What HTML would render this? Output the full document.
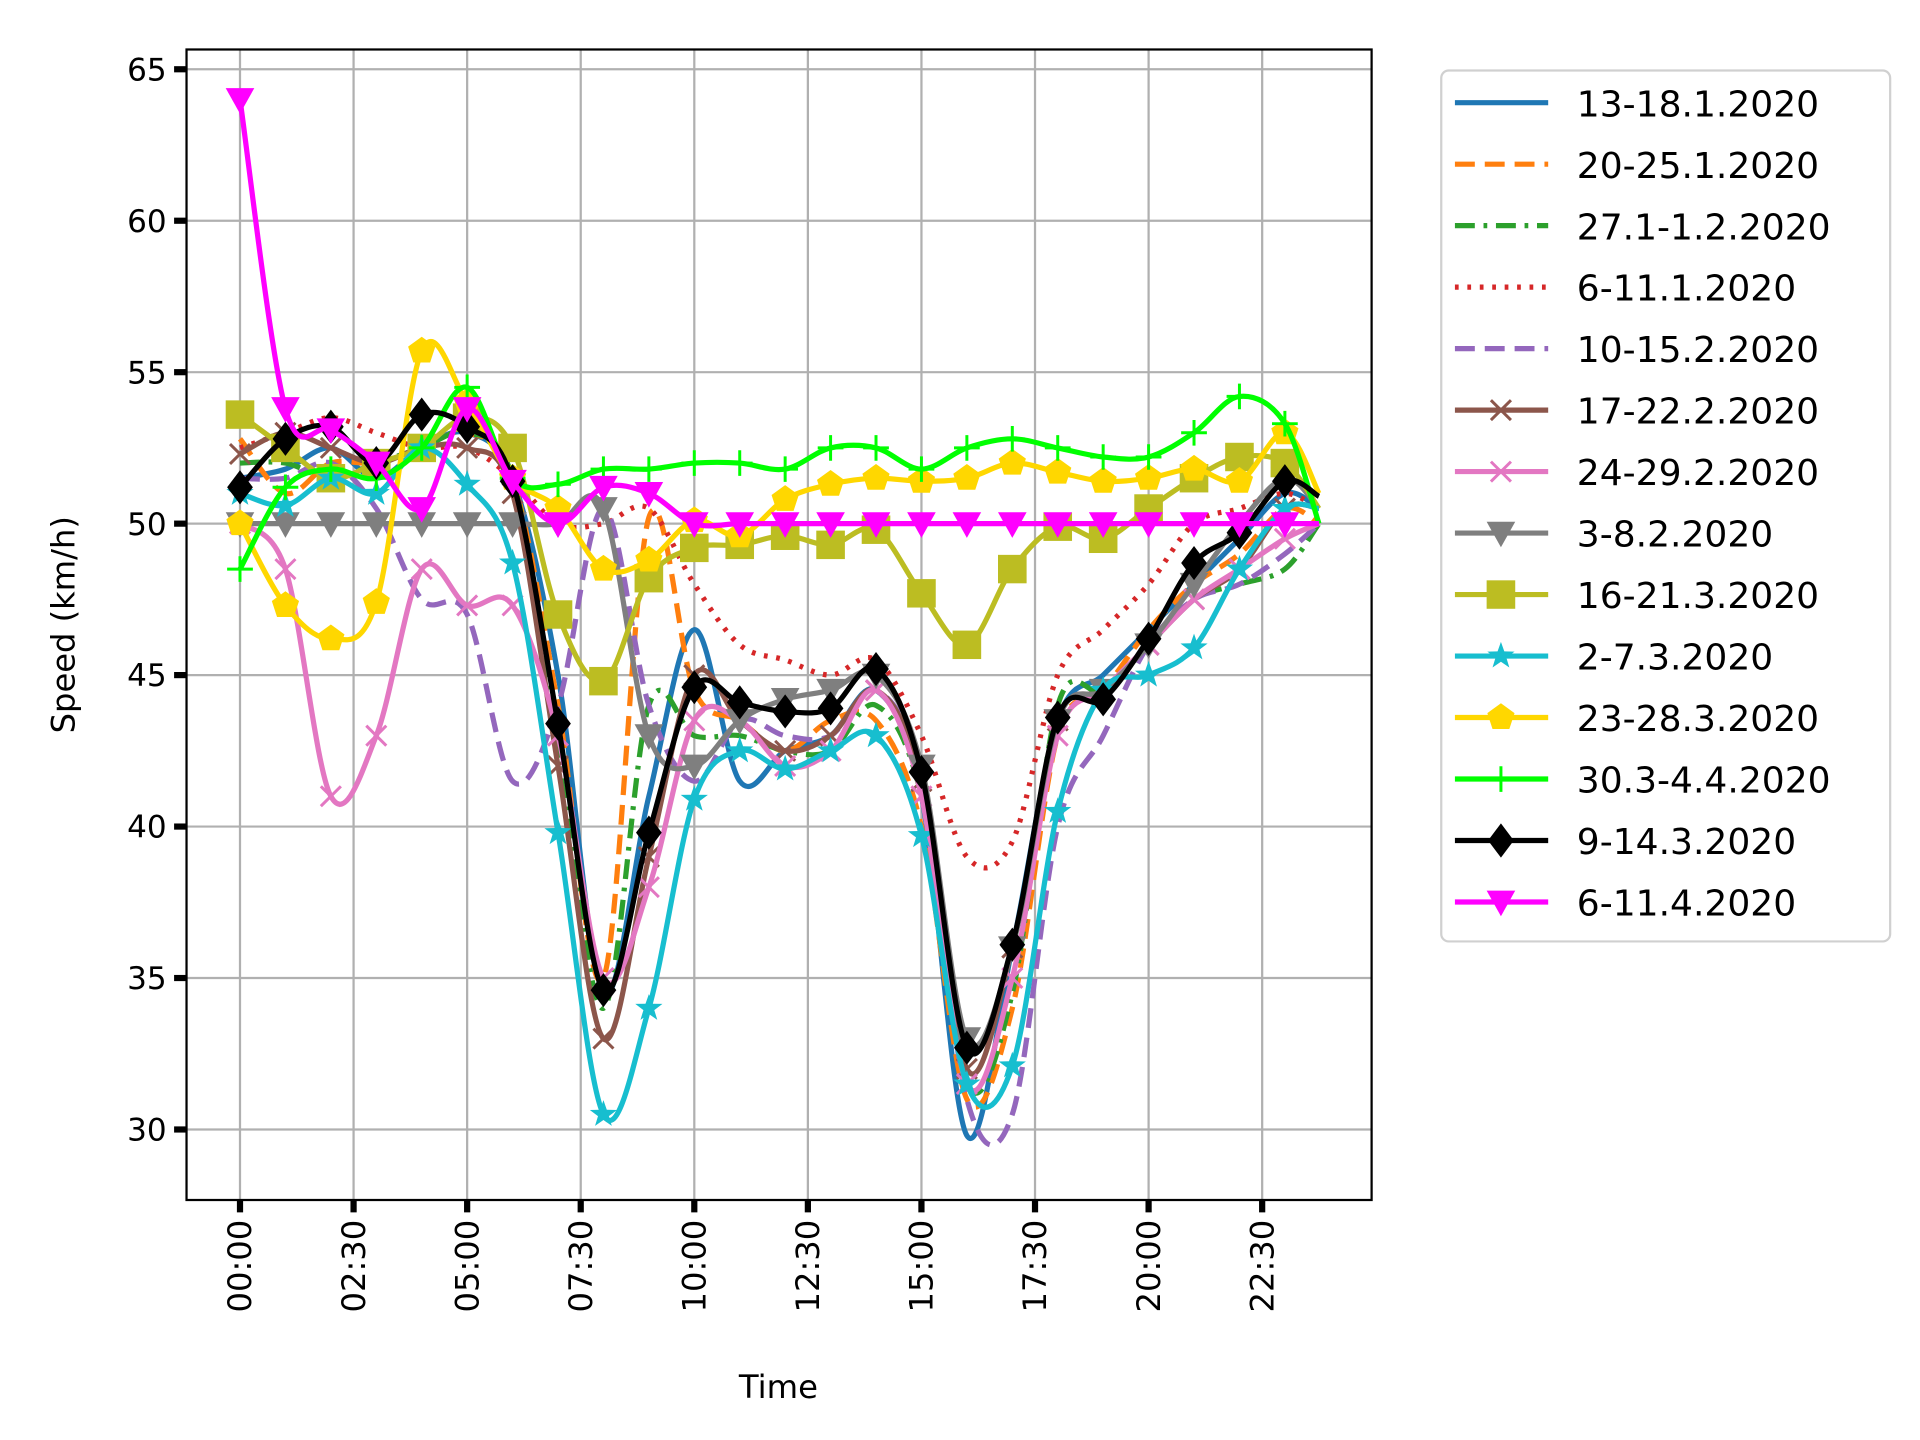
<!DOCTYPE html>
<html><head><meta charset="utf-8"><style>html,body{margin:0;padding:0;background:#fff}svg{display:block}</style></head>
<body>
<svg id="chart" width="1920" height="1440" viewBox="0 0 1544 1164" preserveAspectRatio="none" xmlns="http://www.w3.org/2000/svg" font-family="'DejaVu Sans','Liberation Sans',sans-serif"></svg>
<script>
const hours = [0,1,2,3,4,5,6,7,8,9,10,11,12,13,14,15,16,17,18,19,20,21,22,23,23.75];
const xTickLabels = ["00:00","02:30","05:00","07:30","10:00","12:30","15:00","17:30","20:00","22:30"];
const xTickHours = [0,2.5,5,7.5,10,12.5,15,17.5,20,22.5];
const yTicks = [30,35,40,45,50,55,60,65];
const seriesNames = ["13-18.1.2020","20-25.1.2020","27.1-1.2.2020","6-11.1.2020","10-15.2.2020","17-22.2.2020","24-29.2.2020","3-8.2.2020","16-21.3.2020","2-7.3.2020","23-28.3.2020","30.3-4.4.2020","9-14.3.2020","6-11.4.2020"];
const s1 = [51.5,51.8,52.5,51.5,52.5,53,51.5,45,34.5,41,46.5,41.5,42.5,43,44.5,41,29.8,36,43.5,45,46.5,48,49.5,51,50.5];
const s2 = [52.8,51,52,52,52.5,53,51.5,44,35,50.2,44.5,43.5,42.5,43.5,43.5,40,31,34,43,44.5,46.5,48,49,50.5,50];
const s3 = [52,52,51.5,52,52.5,53,51.5,43,34,44,43,43,42.5,42.5,44,41,31.5,34.5,44,44.5,46,47.5,48,48.5,50];
const s4 = [52.5,53,53.5,53,52.5,52.5,51.5,50,50,50.5,48,46,45.5,45,45.5,43,39,39.5,45,46.5,48,50,50.5,51,50.5];
const s5 = [51.5,51.5,52,50.5,47.5,47,41.5,44,50.5,44,41.5,43.5,43,43,44.5,41.5,31,30.5,40,43,46,47.5,48,49,50];
const s6 = [52.3,53,52.5,52,52.5,52.5,51,42,33,39,45,43.5,42.5,43,44.5,41.5,32,36,43.5,44.5,46,47.5,48.5,50.5,50.5];
const s7 = [50,48.5,41,43,48.5,47.3,47.3,43,35,38,43.5,43.5,42,42.5,44.5,41,31.5,35,43,44.5,46,47.5,48.5,49.5,50];
const s8 = [50,50,50,50,50,50,50,50,50.5,43,42,43.5,44.2,44.5,45,42,33,36,43.5,44.5,46,48,50,51.5,50.5];
const s9 = [53.6,52.5,51.5,52,52.5,53.5,52.5,47,44.8,48.2,49.2,49.3,49.6,49.3,49.8,47.7,46,48.5,49.9,49.5,50.5,51.5,52.2,52,50.5];
const s10 = [51,50.6,51.5,51,52.5,51.3,48.7,39.8,30.5,34,40.9,42.5,41.9,42.5,43,39.7,31.5,32.1,40.5,44.5,45,45.9,48.5,50.5,50.5];
const s11 = [50,47.3,46.2,47.4,55.7,54,51.5,50.5,48.5,48.8,50.1,49.6,50.8,51.3,51.5,51.4,51.5,52,51.7,51.4,51.5,51.8,51.4,53,51];
const s12 = [48.5,51.2,51.8,51.5,52.5,54.5,51.5,51.3,51.8,51.8,52,52,51.8,52.5,52.5,51.8,52.5,52.8,52.5,52.2,52.2,53,54.2,53.3,50];
const s13 = [51.2,52.8,53.2,52,53.6,53.2,51.4,43.4,34.6,39.8,44.6,44.1,43.8,43.9,45.2,41.8,32.7,36.1,43.6,44.2,46.2,48.7,49.7,51.4,50.9];
const s14 = [64,53.8,53.1,52,50.5,53.8,51.4,50,51.2,51,50,50,50,50,50,50,50,50,50,50,50,50,50,50,50];
const allSeries = [s1,s2,s3,s4,s5,s6,s7,s8,s9,s10,s11,s12,s13,s14];
const colors = ["#1f77b4","#ff7f0e","#2ca02c","#d62728","#9467bd","#8c564b","#e377c2","#7f7f7f","#bcbd22","#17becf","#ffd700","#00ff00","#000000","#ff00ff"];
const dashes = ["","16,8","16,7,3,7","3,7","16,8","","","","","","","","",""];
const markers = ["","","","","","x","x","v","s","*","p","+","D","v"];

const NS="http://www.w3.org/2000/svg";
const svg=document.getElementById('chart');
const L=150,R=1103,T=40,B=970;
function xs(h){return 193+h*36.533;}
function ys(v){return 913-(v-30)*24.486;}
function mk(tag,attrs,parent){const e=document.createElementNS(NS,tag);for(const k in attrs)e.setAttribute(k,attrs[k]);(parent||svg).appendChild(e);return e;}

const grid=mk('g',{});


xTickHours.forEach(h=>mk('line',{x1:xs(h),x2:xs(h),y1:T,y2:B,stroke:'#b0b0b0','stroke-width':1.8},grid));
yTicks.forEach(v=>mk('line',{x1:L,x2:R,y1:ys(v),y2:ys(v),stroke:'#b0b0b0','stroke-width':1.8},grid));

function smoothPath(pts){
  let d=`M${pts[0][0]},${pts[0][1]}`;
  for(let i=0;i<pts.length-1;i++){
    const p0=pts[Math.max(0,i-1)],p1=pts[i],p2=pts[i+1],p3=pts[Math.min(pts.length-1,i+2)];
    const c1=[p1[0]+(p2[0]-p0[0])/6,p1[1]+(p2[1]-p0[1])/6];
    const c2=[p2[0]-(p3[0]-p1[0])/6,p2[1]-(p3[1]-p1[1])/6];
    d+=`C${c1[0]},${c1[1]} ${c2[0]},${c2[1]} ${p2[0]},${p2[1]}`;
  }
  return d;
}
function drawMarker(g,type,x,y,c,s){
  s=s||1.15;
  let e;
  if(type==='D'){e=mk('polygon',{points:`${x},${y-12*s} ${x+9*s},${y} ${x},${y+12*s} ${x-9*s},${y}`,fill:c},g);}
  else if(type==='v'){e=mk('polygon',{points:`${x-10*s},${y-8*s} ${x+10*s},${y-8*s} ${x},${y+10*s}`,fill:c},g);}
  else if(type==='s'){e=mk('rect',{x:x-10*s,y:y-10*s,width:20*s,height:20*s,fill:c},g);}
  else if(type==='p'){let p=[];for(let k=0;k<5;k++){const a=-Math.PI/2+k*2*Math.PI/5;p.push(`${x+10*s*Math.cos(a)},${y+10*s*Math.sin(a)}`);}e=mk('polygon',{points:p.join(' '),fill:c},g);}
  else if(type==='*'){let p=[];for(let k=0;k<10;k++){const a=-Math.PI/2+k*Math.PI/5;const r=k%2?4*s:10*s;p.push(`${x+r*Math.cos(a)},${y+r*Math.sin(a)}`);}e=mk('polygon',{points:p.join(' '),fill:c},g);}
  else if(type==='x'){e=mk('path',{d:`M${x-7*s},${y-7*s}L${x+7*s},${y+7*s}M${x-7*s},${y+7*s}L${x+7*s},${y-7*s}`,stroke:c,'stroke-width':2.4,fill:'none'},g);}
  else if(type==='+'){e=mk('path',{d:`M${x-9*s},${y}L${x+9*s},${y}M${x},${y-9*s}L${x},${y+9*s}`,stroke:c,'stroke-width':2.4,fill:'none'},g);}
  if(e){}
}

allSeries.forEach((vals,i)=>{
  const g=mk('g',{});
  
  
  const pts=vals.map((v,j)=>[xs(hours[j]),ys(v)]);
  const p=mk('path',{d:smoothPath(pts),fill:'none',stroke:colors[i],'stroke-width':4.2,'stroke-linejoin':'round'},g);
  if(dashes[i])p.setAttribute('stroke-dasharray',dashes[i]);
  
  
  if(markers[i])pts.forEach((q,j)=>{if(j<pts.length-1)drawMarker(g,markers[i],q[0],q[1],colors[i]);});
});

const frame=mk('rect',{x:L,y:T,width:R-L,height:B-T,fill:'none',stroke:'#000','stroke-width':1.8});



yTicks.forEach(v=>{
  mk('line',{x1:L-10,x2:L,y1:ys(v),y2:ys(v),stroke:'#000','stroke-width':5});
  const t=mk('text',{x:L-16,y:ys(v)+9,'text-anchor':'end','font-size':25,fill:'#000'});
  t.textContent=v;
  
  
});
xTickHours.forEach((h,i)=>{
  mk('line',{x1:xs(h),x2:xs(h),y1:B,y2:B+10,stroke:'#000','stroke-width':5});
  const t=mk('text',{x:0,y:0,'text-anchor':'end','font-size':26,fill:'#000',transform:`translate(${xs(h)+9},${B+16}) rotate(-90)`});
  t.textContent=xTickLabels[i];
  
  
});
const xl=mk('text',{x:626,y:1130,'text-anchor':'middle','font-size':26,fill:'#000'});
xl.textContent='Time';


const yl=mk('text',{x:0,y:0,'text-anchor':'middle','font-size':26,fill:'#000',transform:'translate(60,505) rotate(-90)'});
yl.textContent='Speed (km/h)';



const lg=mk('g',{});


mk('rect',{x:1159,y:57,width:361,height:704,rx:6,fill:'#fff',stroke:'#d0d0d0','stroke-width':1.8},lg);
seriesNames.forEach((n,i)=>{
  const y=83+i*49.7;
  const e=mk('g',{},lg);
  
  
  const l=mk('line',{x1:1170,x2:1245,y1:y,y2:y,stroke:colors[i],'stroke-width':4.2},e);
  if(dashes[i])l.setAttribute('stroke-dasharray',dashes[i]);
  if(markers[i])drawMarker(e,markers[i],1207,y,colors[i]);
  const t=mk('text',{x:1268,y:y+11,'font-size':29,fill:'#000'},e);
  t.textContent=n;
});
</script>
</body></html>
